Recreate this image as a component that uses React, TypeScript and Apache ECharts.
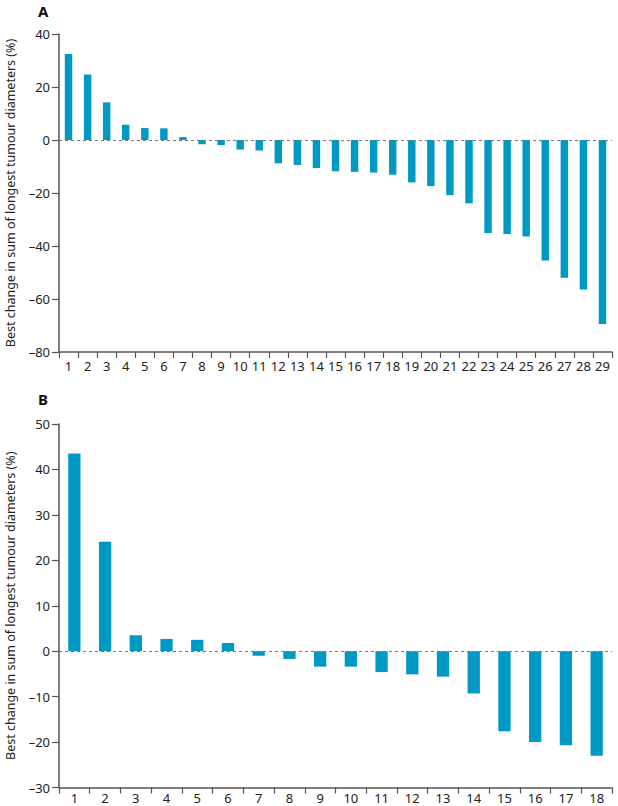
import React, { useEffect, useRef } from "react";
import * as echarts from "echarts";

const catsA = Array.from({ length: 29 }, (_, i) => String(i + 1));
const valuesA = [32.5, 24.7, 14.2, 5.8, 4.5, 4.4, 1.1, -1.6, -1.9, -3.6, -4.0, -8.8, -9.4, -10.6, -11.8, -12.0, -12.3, -13.1, -16.0, -17.4, -20.8, -23.9, -35.1, -35.5, -36.4, -45.5, -52.0, -56.4, -69.4];
const catsB = Array.from({ length: 18 }, (_, i) => String(i + 1));
const valuesB = [43.5, 24.1, 3.5, 2.7, 2.5, 1.8, -1.0, -1.7, -3.4, -3.4, -4.6, -5.1, -5.6, -9.3, -17.6, -20.0, -20.7, -23.0];
const yTitle = "Best change in sum of longest tumour diameters (%)";

const FONT = "Noto Sans";
const BAR = "#0099c4";
const AXIS = "#555555";

export default function App() {
  const ref = useRef<HTMLDivElement>(null);
  useEffect(() => {
    if (!ref.current) return;
    const chart = echarts.init(ref.current, undefined, { renderer: "svg" });
    const xAxisBase = (data: string[], gridIndex: number, margin: number) => ({
      type: "category",
      gridIndex,
      data,
      position: "bottom",
      axisLine: { onZero: false, lineStyle: { color: AXIS, width: 1.5 } },
      axisTick: { show: true, length: 6, lineStyle: { color: AXIS, width: 1.2 } },
      axisLabel: { color: "#222", fontSize: 13, lineHeight: 13, fontFamily: FONT, margin, interval: 0 },
    });
    const yAxisBase = (gridIndex: number, min: number, max: number, interval: number) => ({
      type: "value",
      gridIndex,
      min,
      max,
      interval,
      name: yTitle,
      nameLocation: "middle",
      nameGap: 42,
      nameTextStyle: { color: "#222", fontSize: 12.5, fontFamily: FONT },
      axisLine: { show: true, lineStyle: { color: AXIS, width: 1.5 } },
      axisTick: { show: true, length: 7, lineStyle: { color: AXIS, width: 1.2 } },
      axisLabel: {
        color: "#222",
        fontSize: 13,
        fontFamily: FONT,
        margin: 9,
        formatter: (v: number) => String(v).replace("-", "\u2013"),
      },
      splitLine: { show: false },
    });
    const zeroLine = {
      silent: true,
      symbol: "none",
      label: { show: false },
      lineStyle: { color: "#777", type: [3, 3], width: 1 },
      data: [{ yAxis: 0 }],
    };
    chart.setOption({
      animation: false,
      grid: [
        { left: 59, right: 6, top: 34, height: 318, outerBoundsMode: "none", containLabel: false },
        { left: 59, right: 6, top: 424, height: 363.5, outerBoundsMode: "none", containLabel: false },
      ],
      xAxis: [xAxisBase(catsA, 0, 7), xAxisBase(catsB, 1, 4)],
      yAxis: [yAxisBase(0, -80, 40, 20), yAxisBase(1, -30, 50, 10)],
      series: [
        {
          type: "bar",
          xAxisIndex: 0,
          yAxisIndex: 0,
          data: valuesA,
          barWidth: "39%",
          itemStyle: { color: BAR },
          markLine: zeroLine,
        },
        {
          type: "bar",
          xAxisIndex: 1,
          yAxisIndex: 1,
          data: valuesB,
          barWidth: "40%",
          itemStyle: { color: BAR },
          markLine: zeroLine,
        },
      ],
      graphic: [
        { type: "text", left: 38, top: 3, style: { text: "A", fontSize: 15, fontWeight: "bold", fontFamily: FONT, fill: "#111" } },
        { type: "text", left: 38, top: 391, style: { text: "B", fontSize: 15, fontWeight: "bold", fontFamily: FONT, fill: "#111" } },
      ],
    });
    return () => chart.dispose();
  }, []);
  return (
    <div
      ref={ref}
      style={{ position: "absolute", left: 0, top: 0, width: 618, height: 806, background: "#fff" }}
    />
  );
}
